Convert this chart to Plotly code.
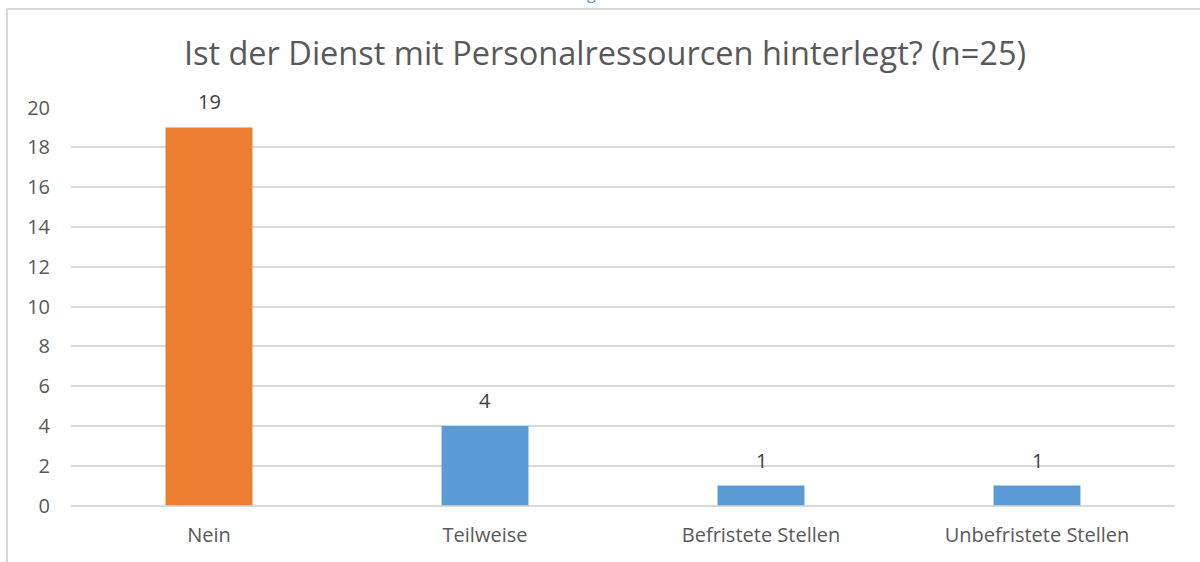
import plotly.graph_objects as go

# data
categories = ["Nein", "Teilweise", "Befristete Stellen", "Unbefristete Stellen"]
counts = [19, 4, 1, 1]
bar_colors = ["#ED7D31", "#5B9BD5", "#5B9BD5", "#5B9BD5"]
y_ticks = [0, 2, 4, 6, 8, 10, 12, 14, 16, 18, 20]

W, H = 1200, 562
FONT = "Open Sans"
GREY = "#595959"

fig = go.Figure()

fig.add_trace(
    go.Bar(
        x=categories,
        y=counts,
        marker=dict(color=bar_colors, line=dict(width=0)),
        hoverinfo="x+y",
    )
)

# value labels above the bars
for cat, val in zip(categories, counts):
    fig.add_annotation(
        x=cat, y=val, xref="x", yref="y",
        text=str(val), showarrow=False,
        yanchor="bottom", yshift=10,
        font=dict(family=FONT, size=20, color="#404040"),
    )

# chart frame (only top and left edge are visible in the crop)
fx = 7 / W
fy = 1 - 9 / H
fig.add_shape(type="line", xref="paper", yref="paper", x0=fx, x1=1.01, y0=fy, y1=fy,
              line=dict(color="#d9d9d9", width=2))
fig.add_shape(type="line", xref="paper", yref="paper", x0=fx, x1=fx, y0=-0.01, y1=fy,
              line=dict(color="#d9d9d9", width=2))

# clipped caption remnant at the very top
fig.add_annotation(
    x=591 / W, y=1, xref="paper", yref="paper", text="g", showarrow=False,
    yanchor="bottom", yshift=-6,
    font=dict(family=FONT, size=16, color="#4F8FD6"),
)

fig.update_xaxes(
    domain=[71 / W, 1175 / W],
    automargin=False,
    showgrid=False,
    showline=False,
    ticks="",
    tickfont=dict(family=FONT, size=20, color=GREY),
    ticklabelstandoff=15,
)
fig.update_yaxes(
    domain=[1 - 505.5 / H, 1 - 107.5 / H],
    automargin=False,
    range=[0, 20],
    tickvals=y_ticks,
    showgrid=True,
    gridcolor="#d9d9d9",
    gridwidth=1.5,
    zeroline=True,
    zerolinecolor="#d9d9d9",
    zerolinewidth=1.5,
    showline=False,
    ticks="",
    tickfont=dict(family=FONT, size=20, color=GREY),
    ticklabelstandoff=20,
)

fig.update_layout(
    width=W,
    height=H,
    autosize=False,
    margin=dict(l=0, r=0, t=0, b=0, pad=0),
    title=dict(
        text="Ist der Dienst mit Personalressourcen hinterlegt? (n=25)",
        x=605 / W, xanchor="center",
        y=1 - 54 / H, yanchor="middle",
        font=dict(family=FONT, size=32.5, color=GREY),
    ),
    bargap=0.685,
    showlegend=False,
    plot_bgcolor="white",
    paper_bgcolor="white",
)

fig.write_html(
    "out.html",
    config={"displayModeBar": False},
    post_script="document.body.style.margin='0';",
)
